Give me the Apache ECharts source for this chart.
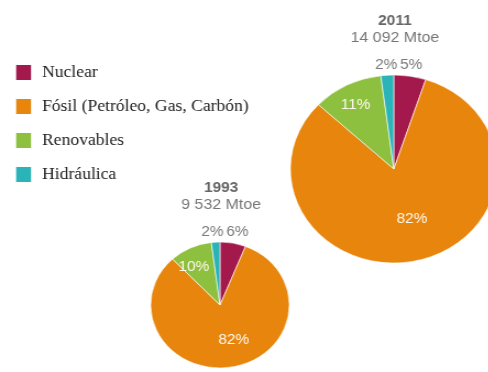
<!DOCTYPE html>
<html>
<head>
<meta charset="utf-8">
<script src="https://cdn.jsdelivr.net/npm/echarts@6/dist/echarts.min.js"></script>
<style>
  html, body { margin: 0; padding: 0; background: #fff; overflow: hidden; }
  #wrap { width: 488px; height: 372px; overflow: hidden; }
  /* the chart is drawn slightly narrower and widened to the full frame */
  #chart { width: 444px; height: 372px; transform: scaleX(1.1); transform-origin: 0 0; }
</style>
</head>
<body>
<div id="wrap"><div id="chart"></div></div>
<script>
// Energy mix categories and their shares (%) for each year
const categories = ['Nuclear', 'Fósil (Petróleo, Gas, Carbón)', 'Renovables', 'Hidráulica'];
const years = ['1993', '2011'];
const totals = ['9 532 Mtoe', '14 092 Mtoe'];
const shares1993 = [6, 82, 10, 2];
const shares2011 = [5, 82, 11, 2];

const colors = ['#a3194b', '#e8850c', '#8dc03f', '#2bb4b8'];

// Pie placement (layout only, in chart units)
const pies = [
  { center: [200, 305], radius: 63, values: shares1993 },
  { center: [358, 169], radius: 94, values: shares2011 }
];

const insideLabel = {
  show: true, position: 'inside', color: '#fff8ee',
  fontFamily: 'Liberation Sans, Arial, sans-serif', fontSize: 14,
  formatter: '{c}%'
};
const outsideLabel = {
  show: true, position: 'outside', color: '#7a7a7a',
  fontFamily: 'Liberation Sans, Arial, sans-serif', fontSize: 14,
  formatter: '{c}%'
};

function buildData(values) {
  return categories.map((name, i) => ({
    name: name,
    value: values[i],
    label: (i === 0 || i === 3) ? outsideLabel : insideLabel,
    labelLine: { show: false }
  }));
}

// Nudges for the inside labels: fossil slightly outward, renewables toward the rim
const fossilOffset = [[6, 1], [4, 2]];
const renewOffset = [[-9, -7], [-12, -19]];

const series = pies.map((p, si) => ({
  type: 'pie',
  center: p.center,
  radius: p.radius,
  startAngle: 90,
  clockwise: true,
  silent: true,
  avoidLabelOverlap: false,
  itemStyle: { borderColor: '#fff', borderWidth: 0.6 },
  data: buildData(p.values),
  labelLayout: function (params) {
    const r = params.rect;
    if (params.dataIndex === 0) {
      return { x: r.x + 6, y: r.y - 10, align: 'left', verticalAlign: 'middle' };
    }
    if (params.dataIndex === 3) {
      return { x: r.x + r.width + 3, y: r.y - 10, align: 'right', verticalAlign: 'middle' };
    }
    if (params.dataIndex === 1) {
      return { dx: fossilOffset[si][0], dy: fossilOffset[si][1] };
    }
    if (params.dataIndex === 2) {
      return { dx: renewOffset[si][0], dy: renewOffset[si][1] };
    }
    return {};
  }
}));

// Year and total headings above each pie
const graphics = [];
pies.forEach((p, i) => {
  const cx = p.center[0] + 1;
  const top = p.center[1] - p.radius;
  graphics.push({
    type: 'text', x: cx, y: top - 54,
    style: { text: years[i], fill: '#666', font: 'bold 14px Liberation Sans, Arial, sans-serif', align: 'center', verticalAlign: 'middle' }
  });
  graphics.push({
    type: 'text', x: cx, y: top - 37,
    style: { text: totals[i], fill: '#777', font: '14.5px Liberation Sans, Arial, sans-serif', align: 'center', verticalAlign: 'middle' }
  });
});

const chart = echarts.init(document.getElementById('chart'));
chart.setOption({
  animation: false,
  color: colors,
  legend: {
    orient: 'vertical',
    left: 12.7,
    top: 63,
    padding: 0,
    icon: 'rect',
    itemWidth: 15.5,
    itemHeight: 17,
    itemGap: 15,
    selectedMode: false,
    data: categories,
    textStyle: {
      fontFamily: 'Liberation Serif, Times New Roman, serif',
      fontSize: 16,
      color: '#222',
      padding: [0, 0, 0, 4]
    }
  },
  graphic: graphics,
  series: series
});
</script>
</body>
</html>
